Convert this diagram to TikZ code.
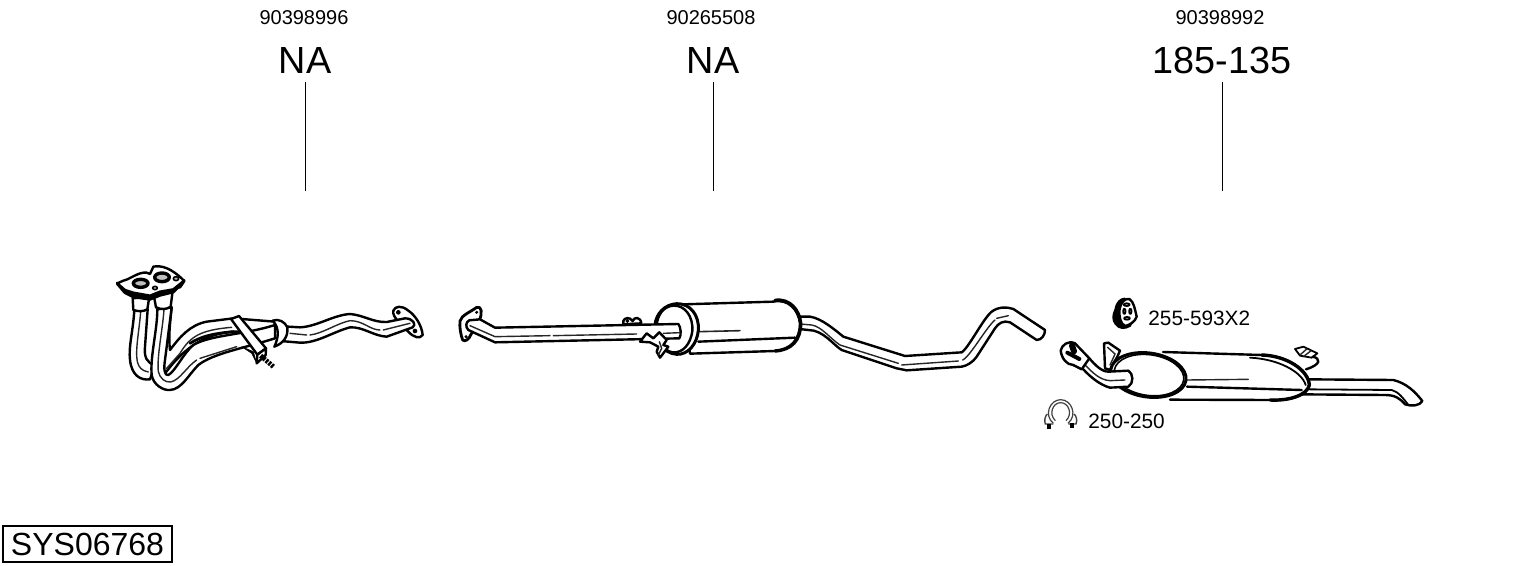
\documentclass[tikz,border=0pt]{standalone}
\usepackage{fontspec}
\setmainfont{Liberation Sans}
\tikzset{
 ink/.style={draw=black,line width=1.2pt,line join=round,line cap=round,fill=white},
 thin ink/.style={draw=black!85,line width=.7pt,line cap=round},
 heavy/.style={draw=black,line width=1.7pt,line join=round,line cap=round},
 solid ink/.style={fill=black,draw=black,line width=.3pt},
 partno/.style={font=\fontsize{10}{12}\selectfont,inner sep=0pt,anchor=base},
 bignum/.style={font=\fontsize{18.9}{22}\selectfont,inner sep=0pt,anchor=base},
 small label/.style={font=\fontsize{10.4}{12}\selectfont,inner sep=0pt,anchor=west},
 leader/.style={draw=black,line width=.6pt},
 za/.style={shift={(100,250)},x=.16667pt,y=-.16667pt},
 zb/.style={shift={(450,285)},x=.16667pt,y=-.16667pt},
 zc/.style={shift={(780,295)},x=.16667pt,y=-.16667pt},
 zd/.style={shift={(1030,290)},x=.16667pt,y=-.16667pt},
 ze/.style={shift={(1220,335)},x=.16667pt,y=-.16667pt},
}
\begin{document}
\begin{tikzpicture}[x=.5pt,y=-.5pt]
\useasboundingbox (0,0) rectangle (1530,566);
\fill[white] (0,0) rectangle (1530,566);
% labels
\node[partno] (p1) at (304,25) {90398996};
\node[partno] (p2) at (711,25) {90265508};
\node[partno] (p3) at (1220,25) {90398992};
\node[bignum] (n1) at (305,74) {NA};
\node[bignum] (n2) at (713,74) {NA};
\node[bignum] (n3) at (1222,74) {185-135};
\coordinate (s1) at (305.5,82);
\coordinate (s2) at (713.5,82);
\coordinate (s3) at (1222.5,82);
\coordinate (e1) at (305.5,191);
\coordinate (e2) at (713.5,191);
\coordinate (e3) at (1222.5,191);
\draw[leader] (s1) -- (e1);
\draw[leader] (s2) -- (e2);
\draw[leader] (s3) -- (e3);
\node[small label] (l1) at (1148,318) {255-593X2};
\node[small label] (l2) at (1088,421) {250-250};
\node[draw=black,line width=1pt,font=\fontsize{16}{18}\selectfont,inner sep=0pt,minimum width=84.5pt,minimum height=18pt] (sys) at (87.5,544) {SYS06768};

% ---------- front pipe ----------
\begin{scope}[za]
 % left tube
 \draw[ink] (103,178) .. controls (100,240) and (85,290) .. (90,330) .. controls (95,375) and (120,392) .. (150,388) -- (165,345) .. controls (140,340) and (132,320) .. (135,290) -- (143,178) -- cycle;
 \draw[thin ink] (122,185) .. controls (118,240) and (105,300) .. (112,335) .. controls (116,352) and (125,362) .. (145,366);
 % right tube, back branch
 \draw[ink] (215,172) .. controls (210,220) and (205,260) .. (210,300) .. controls (240,260) and (270,225) .. (320,215) -- (400,205) -- (525,215) -- (525,245) -- (400,245) .. controls (330,250) and (270,280) .. (215,345) -- (195,370) .. controls (180,340) and (175,300) .. (215,172);
 \draw[ink] (172,178) .. controls (172,240) and (150,320) .. (155,375) .. controls (160,405) and (190,422) .. (210,420) .. controls (245,418) and (265,375) .. (295,345) .. controls (340,310) and (430,295) .. (525,265) -- (525,225) .. controls (430,255) and (330,255) .. (280,285) .. controls (250,310) and (225,365) .. (205,375) .. controls (195,378) and (190,360) .. (195,330) -- (215,172) -- cycle;
 \draw[thin ink] (192,178) .. controls (188,240) and (170,320) .. (175,365) .. controls (180,385) and (195,398) .. (212,396) .. controls (240,390) and (260,350) .. (290,330) (300,325) -- (410,290);
 \draw[thin ink] (200,355) -- (240,310) .. controls (270,260) and (300,240) .. (395,232);
 \draw[heavy,line width=1.4pt] (270,280) .. controls (310,255) and (350,250) .. (400,245);
 % end flange
 \draw[ink] (880,182) .. controls (885,168) and (905,165) .. (925,182) .. controls (945,195) and (965,225) .. (968,255) .. controls (960,268) and (940,262) .. (925,245) .. controls (905,225) and (875,200) .. (880,182) -- cycle;
 \fill (895,187) circle[radius=7];
 \fill (945,243) circle[radius=7];
 % single tube
 \fill[white] (530,228) -- (600,232) .. controls (650,230) and (700,195) .. (750,192) .. controls (790,195) and (820,218) .. (860,216) -- (915,205) .. controls (940,205) and (950,225) .. (938,232) -- (860,260) .. controls (820,258) and (790,230) .. (750,232) .. controls (700,245) and (650,280) .. (600,278) -- (530,272) -- cycle;
 \draw[ink,fill=none] (530,228) -- (600,232) .. controls (650,230) and (700,195) .. (750,192) .. controls (790,195) and (820,218) .. (860,216) -- (915,205) .. controls (940,205) and (950,225) .. (938,232) -- (860,260) .. controls (820,258) and (790,230) .. (750,232) .. controls (700,245) and (650,280) .. (600,278) -- (530,272);
 \draw[thin ink] (570,250) -- (620,255) (630,255) .. controls (670,250) and (710,220) .. (750,212) .. controls (790,212) and (810,240) .. (840,240) (850,240) -- (930,220);
 % collar
 \draw[ink] (518,212) .. controls (535,205) and (555,215) .. (562,232) .. controls (565,260) and (550,280) .. (523,290) .. controls (535,265) and (540,235) .. (518,212) -- cycle;
 % strap
 \draw[solid ink] (425,290) -- (460,305) -- (470,340) -- (455,310) -- cycle;
 \draw[ink] (393,207) -- (417,198) -- (498,295) -- (472,314) -- cycle;
 \draw[ink] (472,314) -- (498,295) -- (497,315) -- (470,340) -- cycle;
 \draw[line width=2.4pt,dash pattern=on 1.2pt off .6pt,draw=black] (482,317) -- (520,350);
 % collars + flange
 \draw[ink] (98,145) -- (100,180) .. controls (115,185) and (130,185) .. (142,178) -- (148,140) -- cycle;
 \draw[ink] (162,140) -- (168,172) .. controls (185,180) and (200,178) .. (212,170) -- (218,122) -- cycle;
 \draw[heavy,fill=black] (52,100) -- (75,127) -- (100,140) -- (150,147) -- (180,135) -- (220,125) -- (252,92) -- (240,110) -- (215,118) -- (180,125) -- (150,135) -- (100,128) -- cycle;
 \draw[ink] (52,100) -- (70,92) .. controls (90,88) and (115,65) .. (140,68) -- (150,72) -- (160,50) .. controls (185,45) and (215,55) .. (252,92) -- (220,118) -- (180,125) -- (150,137) -- (100,128) -- (75,120) -- cycle;
 \draw[ink,fill=black!25,line width=1.7pt] (122,100) ellipse[x radius=22,y radius=12];
 \draw[ink,fill=black!25,line width=1.7pt] (186,82) ellipse[x radius=22,y radius=13];
 \draw[ink,fill=black!30,line width=.8pt] (165,114) ellipse[x radius=7,y radius=5];
 \draw[ink,fill=black!30,line width=.8pt] (228,86) ellipse[x radius=8,y radius=6];
\end{scope}

% ---------- middle muffler ----------
\begin{scope}[zc]
 \draw[ink] (40,65) -- (90,65) .. controls (125,70) and (165,105) .. (190,125) -- (375,183) -- (545,172) .. controls (565,160) and (610,70) .. (635,50) .. controls (655,35) and (680,35) .. (700,42) -- (795,105) .. controls (795,120) and (785,135) .. (770,135) -- (690,82) .. controls (670,75) and (655,85) .. (645,100) -- (590,185) .. controls (575,205) and (560,212) .. (545,215) -- (380,226) -- (350,220) -- (185,165) .. controls (160,150) and (130,105) .. (85,105) -- (40,100) -- cycle;
 \draw[thin ink] (60,87) -- (95,90) .. controls (125,95) and (150,130) .. (180,150) -- (355,205) (365,210) -- (535,198) (548,195) .. controls (570,185) and (620,95) .. (645,75) (650,70) -- (685,62);
\end{scope}
\begin{scope}[zb]
 \draw[ink] (700,58) -- (970,50) .. controls (1015,40) and (1045,75) .. (1050,115) .. controls (1050,165) and (1020,195) .. (975,198) -- (720,206) -- cycle;
 \draw[heavy] (975,46) .. controls (1020,40) and (1048,75) .. (1052,115) .. controls (1052,165) and (1025,195) .. (975,198);
 \draw[thin ink,line width=.8pt] (745,140) -- (870,137);
 \draw[ink,fill=none] (745,170) -- (1035,158);
 \draw[ink,line width=1.5pt] (680,56) .. controls (720,55) and (748,90) .. (745,135) .. controls (742,175) and (715,210) .. (680,208) .. controls (640,205) and (612,165) .. (615,120) .. controls (618,85) and (645,58) .. (680,56) -- cycle;
 \draw[ink] (670,62) .. controls (705,60) and (730,95) .. (727,138) .. controls (722,175) and (700,205) .. (668,202) .. controls (638,198) and (618,160) .. (620,122) .. controls (622,90) and (640,64) .. (670,62) -- cycle;
 % flange
 \draw[ink,line width=1.4pt] (30,108) .. controls (35,90) and (60,82) .. (80,67) .. controls (95,62) and (98,85) .. (88,105) -- (62,150) .. controls (58,162) and (45,172) .. (38,165) .. controls (32,150) and (28,125) .. (30,108) -- cycle;
 \fill (80,82) circle[radius=5];
 \fill (48,155) circle[radius=5];
 % hanger top
 \draw[ink,line width=1.2pt] (520,108) .. controls (522,98) and (540,95) .. (548,108) .. controls (552,95) and (572,95) .. (574,115) -- (520,118) -- cycle;
 \draw[solid ink] (532,108) circle[radius=5];
 % tube
 \draw[ink] (58,106) -- (90,103) -- (135,128) -- (685,117) .. controls (692,125) and (695,150) .. (688,160) -- (135,172) -- (55,135) .. controls (45,125) and (48,110) .. (58,106) -- cycle;
 \draw[thin ink] (60,122) -- (135,155) -- (300,152) (310,152) -- (560,147) (640,145) -- (690,143);
 % tear clamp
 \draw[ink] (570,170) -- (590,145) -- (610,160) -- (628,142) -- (650,165) -- (640,180) -- (655,185) -- (640,205) -- (630,218) -- (620,200) -- (625,185) -- (600,172) -- cycle;
 \draw[thin ink] (628,170) -- (635,190) -- (625,210);
\end{scope}

% ---------- rear muffler ----------
\begin{scope}[ze]
 % tail tube
 \draw[ink] (260,133) -- (520,135) .. controls (560,145) and (585,170) .. (607,198) .. controls (600,212) and (575,215) .. (555,208) .. controls (540,190) and (525,180) .. (495,180) -- (235,178) -- cycle;
 \draw[ink,fill=none,line width=.9pt] (265,163) -- (515,165) .. controls (535,170) and (550,190) .. (565,210);
 % bracket
 \draw[ink,line width=.9pt] (225,42) -- (250,35) -- (292,55) -- (275,68) -- (240,62) -- cycle;
 \draw[thin ink] (240,60) -- (260,42) (250,65) -- (272,48);
 \draw[ink,fill=none] (278,65) .. controls (302,70) and (305,88) .. (258,103);
 % body
 \fill[white] (-171,51) -- (125,60) .. controls (200,62) and (265,105) .. (268,150) .. controls (262,180) and (210,198) .. (150,195) -- (-150,194) -- cycle;
 \draw[ink,fill=none] (-171,51) -- (125,60) .. controls (200,62) and (265,105) .. (268,150) .. controls (262,180) and (210,198) .. (150,195) -- (-150,194);
 \draw[heavy] (125,60) .. controls (200,62) and (265,105) .. (268,150) .. controls (262,180) and (210,198) .. (150,195);
 \draw[ink,fill=none,line width=.9pt] (90,68) .. controls (175,72) and (245,110) .. (257,150);
 \draw[thin ink] (-99,135) -- (85,133);
 \draw[ink,fill=none] (-99,155) -- (245,165);
\end{scope}
\begin{scope}[zd]
 % bracket left
 \draw[ink] (222,160) -- (235,158) -- (270,182) -- (262,200) -- (250,220) -- (240,240) -- (225,235) -- cycle;
 \draw[thin ink] (233,172) -- (255,192) -- (240,225);
 \draw[ink,line width=1.5pt,rotate around={-8:(355,255)}] (355,255) ellipse[x radius=114,y radius=66];
 \draw[ink,line width=.8pt,rotate around={-8:(355,255)}] (357,255) ellipse[x radius=105,y radius=61];
 % inlet tube
 \draw[ink] (130,225) .. controls (150,210) and (165,200) .. (178,205) .. controls (195,225) and (215,245) .. (235,245) -- (295,242) .. controls (310,250) and (312,280) .. (295,290) -- (240,293) .. controls (210,285) and (180,260) .. (160,238) -- cycle;
 \draw[thin ink] (165,225) .. controls (190,250) and (210,270) .. (240,272) -- (285,270);
 % inlet end
 \draw[ink] (92,182) .. controls (95,165) and (115,150) .. (135,160) -- (178,205) -- (155,238) -- (130,225) .. controls (110,225) and (95,205) .. (92,182) -- cycle;
 \draw[line width=2pt,line cap=round] (112,188) -- (148,207);
 \draw[line width=3pt,line cap=round] (126,166) -- (132,184);
 % rubber hanger
 \draw[heavy,fill=black] (258,60) .. controls (262,35) and (275,28) .. (285,28) -- (300,105) .. controls (285,115) and (268,115) .. (258,100) .. controls (250,90) and (250,75) .. (258,60) -- cycle;
 \draw[ink] (268,62) .. controls (272,35) and (285,25) .. (298,27) .. controls (312,35) and (315,60) .. (320,80) .. controls (315,95) and (300,105) .. (285,108) .. controls (270,100) and (268,80) .. (268,62) -- cycle;
 \draw[ink,line width=.9pt] (290,44) ellipse[x radius=9,y radius=4];
 \draw[ink,line width=.9pt] (291,85) ellipse[x radius=9,y radius=4];
 \draw[ink,line width=.9pt] (283,64) ellipse[x radius=3.5,y radius=8];
 \draw[ink,line width=.9pt] (301,64) ellipse[x radius=3.5,y radius=8];
 % U clamp
 \draw[draw=black!75,line width=.6pt] (70,400) .. controls (40,375) and (60,329) .. (92,329) .. controls (124,329) and (144,375) .. (114,400);
 \draw[draw=black!75,line width=.6pt] (76,392) .. controls (55,372) and (68,338) .. (92,338) .. controls (116,338) and (129,372) .. (108,392);
 \draw[draw=black!75,line width=.7pt] (52,372) .. controls (45,378) and (42,392) .. (46,402) -- (70,402) (132,372) .. controls (140,378) and (142,392) .. (138,402) -- (115,402);
 \fill (50,402) rectangle (64,418);
 \fill (120,400) rectangle (133,414);
\end{scope}
\end{tikzpicture}
\end{document}
